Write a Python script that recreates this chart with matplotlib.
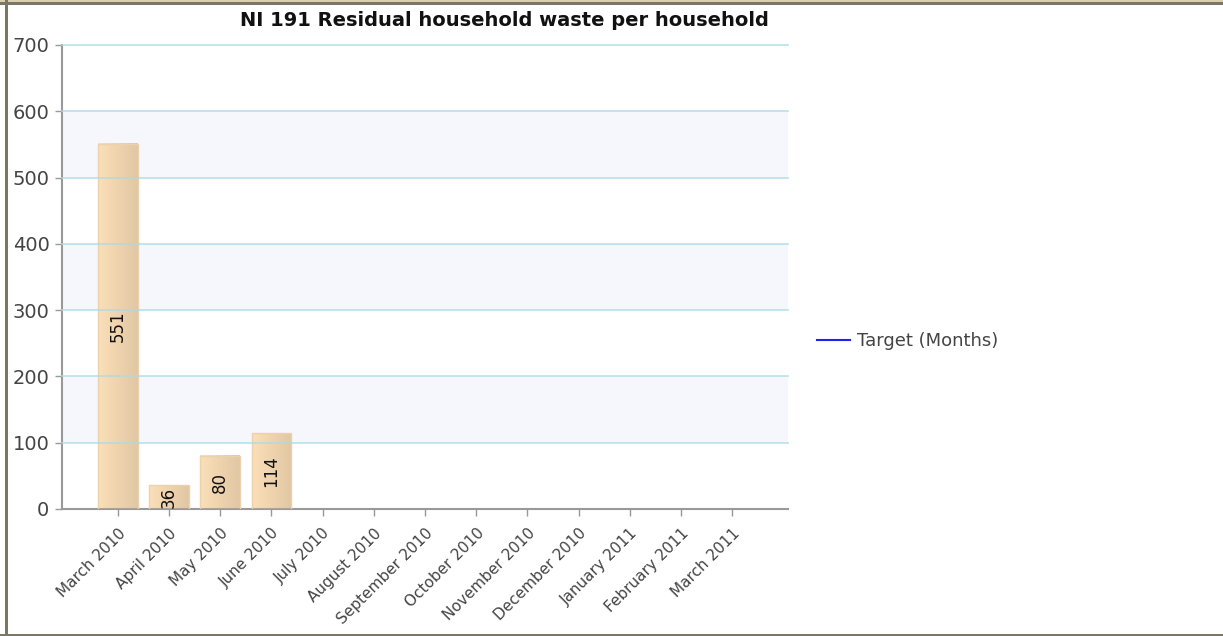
import matplotlib
matplotlib.use("Agg")
import matplotlib.pyplot as plt
import numpy as np
from matplotlib.lines import Line2D
from matplotlib.patches import Rectangle
from matplotlib.colors import LinearSegmentedColormap

plt.rcParams['font.family'] = ['DejaVu Sans']

months = ['March 2010', 'April 2010', 'May 2010', 'June 2010', 'July 2010',
          'August 2010', 'September 2010', 'October 2010', 'November 2010',
          'December 2010', 'January 2011', 'February 2011', 'March 2011']
waste = [551, 36, 80, 114]
yticks = [0, 100, 200, 300, 400, 500, 600, 700]

fig = plt.figure(figsize=(12.23, 6.36), dpi=100)
ax = fig.add_axes([62/1223, 1-509/636, (788-62)/1223, (509-45)/636])

x = np.arange(len(months))

# alternating bands + grid
for lo in (100, 300, 500):
    ax.axhspan(lo, lo+100, color='#f5f7fd', zorder=0, lw=0)
for t in yticks[1:]:
    ax.axhline(t, color='#a9dbe3', lw=1.3, alpha=0.75, zorder=5, clip_on=False)

# gradient bars
grad = np.linspace(0, 1, 64).reshape(1, -1)
cmap = LinearSegmentedColormap.from_list('bar', ['#fbdfb8', '#e2c7a4'])
w = 0.77
for xi, v in zip(x, waste):
    ax.imshow(grad, cmap=cmap, aspect='auto', extent=(xi-w/2, xi+w/2, 0, v),
              zorder=2, interpolation='bilinear')
    ax.add_patch(Rectangle((xi-w/2, 0), w, v, fill=False, ec='#ebd1ad', lw=1, zorder=3))
    ax.text(xi, v/2, str(v), rotation=90, ha='center', va='center',
            fontsize=12, color='#111111', zorder=6)

ax.set_xlim(-1.09, len(months)-1+1.09)
ax.set_ylim(0, 700)
ax.set_xticks(x)
ax.set_xticklabels(months, rotation=45, ha='right', rotation_mode='anchor',
                   fontsize=11, color='#444444')
ax.set_yticks(yticks)
ax.set_yticklabels([str(t) for t in yticks], fontsize=14, color='#444444')
ax.tick_params(axis='both', length=5, width=1, color='#999999')
ax.tick_params(axis='x', pad=7)
ax.tick_params(axis='y', pad=4)
for s in ('top', 'right'):
    ax.spines[s].set_visible(False)
for s in ('left', 'bottom'):
    ax.spines[s].set_color('#999999')
    ax.spines[s].set_linewidth(1.5)

fig.text(504/1223, 1-21/636, 'NI 191 Residual household waste per household',
         ha='center', va='center', fontsize=14, fontweight='bold', color='#111111')

fig.legend([Line2D([], [], color='#2222ee', lw=1.5)], ['Target (Months)'],
           loc='center left', bbox_to_anchor=(801/1223, 1-341/636), frameon=False,
           fontsize=13, handlelength=1.8, handletextpad=0.4, labelcolor='#444444')

# outer frame
fig.add_artist(Rectangle((0, 1-5/636), 1, 5/636, transform=fig.transFigure,
                         color='#7a7865', lw=0))
fig.add_artist(Rectangle((0, 1-2/636), 1, 2/636, transform=fig.transFigure,
                         color='#d8d0b0', lw=0))
fig.add_artist(Rectangle((5/1223, 0), 3/1223, 1, transform=fig.transFigure,
                         color='#7a7865', lw=0))
fig.add_artist(Rectangle((0, 0), 1, 2/636, transform=fig.transFigure,
                         color='#7a7865', lw=0))

fig.savefig('out.png', dpi=100)
